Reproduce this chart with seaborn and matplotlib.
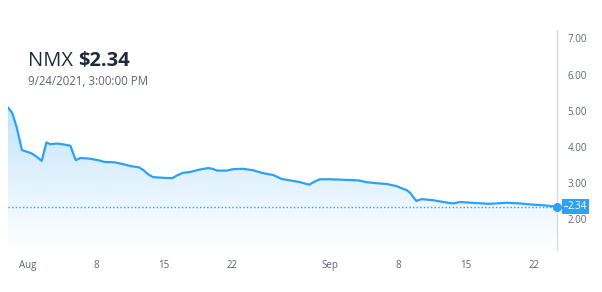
import numpy as np
import pandas as pd
import matplotlib
matplotlib.use("Agg")
import matplotlib.pyplot as plt
import matplotlib.dates as mdates
import matplotlib.transforms as mtransforms
from matplotlib.colors import LinearSegmentedColormap
from matplotlib.patches import Rectangle
import seaborn as sns

# ---- data ----
# days since 2021-08-01 00:00
day_offset = [-2.02, -1.57, -1.10, -0.59, 0.38, 0.89, 1.44, 1.92, 2.33, 3.01,
              3.80, 4.38, 4.93, 5.41, 6.37, 7.22, 7.91, 8.93, 9.78, 10.47,
              11.43, 11.84, 12.35, 12.86, 13.89, 14.86, 15.27, 15.94, 16.63, 17.66,
              18.51, 18.96, 19.44, 20.40, 21.08, 22.10, 23.13, 23.99, 24.51, 25.18,
              26.05, 26.72, 27.93, 28.88, 29.47, 29.98, 31.01, 32.03, 32.89, 33.91,
              34.77, 35.80, 36.83, 37.85, 38.37, 38.88, 39.22, 39.87, 40.42, 41.61,
              42.64, 43.67, 44.35, 46.07, 47.43, 49.15, 50.51, 51.71, 52.91, 54.31]
price = [5.09, 4.93, 4.51, 3.91, 3.82, 3.73, 3.61, 4.12, 4.07, 4.09,
         4.06, 4.03, 3.63, 3.69, 3.67, 3.63, 3.58, 3.57, 3.52, 3.47,
         3.43, 3.36, 3.24, 3.16, 3.14, 3.13, 3.20, 3.28, 3.30, 3.37,
         3.41, 3.39, 3.34, 3.34, 3.38, 3.39, 3.35, 3.28, 3.25, 3.22,
         3.11, 3.08, 3.02, 2.95, 3.04, 3.10, 3.10, 3.09, 3.08, 3.07,
         3.02, 2.99, 2.97, 2.91, 2.85, 2.80, 2.73, 2.50, 2.55, 2.52,
         2.47, 2.43, 2.47, 2.44, 2.42, 2.45, 2.43, 2.40, 2.38, 2.34]
last_price = 2.34
title_symbol = "NMX"
title_price = "$2.34"
subtitle = "9/24/2021, 3:00:00 PM"
y_ticks = [2, 3, 4, 5, 6, 7]
x_tick_dates = ["2021-08-01", "2021-08-08", "2021-08-15", "2021-08-22",
                "2021-09-01", "2021-09-08", "2021-09-15", "2021-09-22"]
x_tick_labels = ["Aug", "8", "15", "22", "Sep", "8", "15", "22"]

# ---- style ----
sns.set_style("white")
plt.rcParams["font.family"] = ["Open Sans", "DejaVu Sans"]

line_color = "#2ba2f5"
text_gray = "#5d6574"
title_color = "#1f2a3c"

base = pd.Timestamp("2021-08-01")
df = pd.DataFrame({"time": base + pd.to_timedelta(day_offset, unit="D"),
                   "price": price})

W, H = 602, 292
fig = plt.figure(figsize=(W / 100, H / 100), dpi=100)
ax_left, ax_right, ax_top, ax_bot = 8, 557, 30, 250
ax = fig.add_axes([ax_left / W, 1 - ax_bot / H, (ax_right - ax_left) / W,
                   (ax_bot - ax_top) / H])

ymin, ymax = 1.141, 7.235
sns.lineplot(data=df, x="time", y="price", ax=ax, color=line_color,
             linewidth=1.6, zorder=4)
xnum = mdates.date2num(df["time"])

# gradient area fill
poly = ax.fill_between(df["time"], df["price"], ymin, color="none", lw=0)
grad = np.linspace(0, 1, 256).reshape(-1, 1)
cmap = LinearSegmentedColormap.from_list("g", ["#ffffff", "#e2f2fe", "#bfe3fb"])
im = ax.imshow(grad, cmap=cmap, origin="lower", aspect="auto",
               extent=[xnum[0], xnum[-1], ymin, max(price)], zorder=1)
im.set_clip_path(poly.get_paths()[0], transform=ax.transData)

ax.axhline(last_price, color=line_color, lw=1.0, ls=(0, (1, 1.6)), zorder=3)
ax.plot([xnum[-1]], [last_price], "o", ms=5.5, color=line_color,
        clip_on=False, zorder=6)

ax.set_xlim(xnum[0], xnum[-1])
ax.set_ylim(ymin, ymax)

for s in ["top", "left", "bottom"]:
    ax.spines[s].set_visible(False)
ax.spines["right"].set_visible(True)
ax.spines["right"].set_color("#d7dbe1")
ax.spines["right"].set_linewidth(1.0)

ax.yaxis.tick_right()
ax.set_yticks(y_ticks)
ax.set_yticklabels([f"{v:.2f}" for v in y_ticks])
ax.set_xticks(mdates.date2num(pd.to_datetime(x_tick_dates)))
ax.set_xticklabels(x_tick_labels)
ax.tick_params(axis="y", length=0, pad=7.5, labelsize=7, labelcolor=text_gray)
ax.tick_params(axis="x", length=0, pad=7, labelsize=7, labelcolor=text_gray)
ax.set_xlabel("")
ax.set_ylabel("")
ax.grid(False)

# last price label box
bx0, bx1, by0, by1 = 562, 589, 199, 213.5
fig.patches.append(Rectangle((bx0 / W, 1 - by1 / H), (bx1 - bx0) / W,
                             (by1 - by0) / H, transform=fig.transFigure,
                             facecolor=line_color, edgecolor="none", zorder=5))
fig.text((bx0 + bx1) / 2 / W + 1.5 / W, 1 - (by0 + by1) / 2 / H, f"{last_price:.2f}",
         color="white", fontsize=7, ha="center", va="center", zorder=6)
fig.add_artist(plt.Line2D([(bx0 + 2) / W, (bx0 + 5) / W],
                          [1 - (by0 + by1) / 2 / H] * 2, color="white", lw=0.8,
                          transform=fig.transFigure, zorder=6))

# titles
t1 = fig.text(28 / W, 1 - 66 / H, title_symbol, fontsize=14.5, color=title_color,
              va="baseline", ha="left")
fig.canvas.draw()
bb = t1.get_window_extent()
fig.text((bb.x1 + 5) / W, 1 - 66 / H, title_price, fontsize=14.5,
         color=title_color, va="baseline", ha="left", fontweight="bold")
fig.text(28 / W, 1 - 85 / H, subtitle, fontsize=8.3, color=text_gray,
         va="baseline", ha="left")

fig.savefig("out.png", dpi=100)
